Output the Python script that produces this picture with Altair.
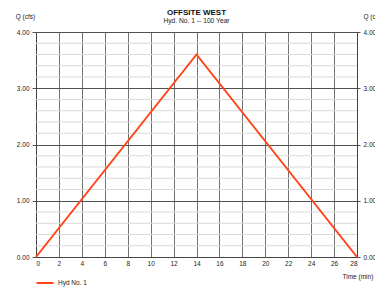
import altair as alt
import pandas as pd

# data
time_min = [0, 14, 28]
flow_cfs = [0.0, 3.6, 0.0]
series_name = "Hyd No. 1"
x_ticks = list(range(0, 29, 2))
y_major = [0, 1, 2, 3, 4]
y_minor = [0.2, 0.4, 0.6, 0.8, 1.2, 1.4, 1.6, 1.8, 2.2, 2.4, 2.6, 2.8, 3.2, 3.4, 3.6, 3.8]

df = pd.DataFrame({"t": time_min, "q": flow_cfs, "s": [series_name] * len(time_min)})
minor_df = pd.DataFrame({"v": y_minor})

FONT = "Liberation Sans"
LINE_COLOR = "#ff4519"

xscale = alt.Scale(domain=[0, 28], nice=False, zero=False)
yscale = alt.Scale(domain=[0, 4], nice=False)

x_axis = alt.Axis(
    values=x_ticks, format="d", ticks=False, labelPadding=3, labelOverlap=False,
    grid=True, gridColor="#707070", gridWidth=1,
    domainColor="#444444", labelFont=FONT, labelFontSize=6.5, labelColor="#222",
    title="Time (min)", titleFont=FONT, titleFontSize=6.5, titleFontWeight="normal",
    titleColor="#222", titleAngle=0, titleAlign="left", titleBaseline="alphabetic",
    titleX=306, titleY=21,
)

left_axis = alt.Axis(
    values=y_major, format=".2f", orient="left", tickSize=4, tickColor="#555",
    labelPadding=3, labelOverlap=False, grid=True, gridColor="#505050", gridWidth=1,
    domainColor="#444444", labelFont=FONT, labelFontSize=6.5, labelColor="#222",
    title="Q (cfs)", titleFont=FONT, titleFontSize=6.5, titleFontWeight="normal",
    titleColor="#222", titleAngle=0, titleAlign="center", titleBaseline="alphabetic",
    titleX=-11, titleY=-14,
)

right_axis = alt.Axis(
    values=y_major, format=".2f", orient="right", tickSize=3, tickColor="#555",
    labelPadding=3, labelOverlap=False, grid=False, domainColor="#444444",
    labelFont=FONT, labelFontSize=6.5, labelColor="#222",
    title="Q (cfs)", titleFont=FONT, titleFontSize=6.5, titleFontWeight="normal",
    titleColor="#222", titleAngle=0, titleAlign="left", titleBaseline="alphabetic",
    titleX=6, titleY=-14,
)

grid = alt.Chart(minor_df).mark_rule(color="#d9d9d9", strokeWidth=1).encode(
    y=alt.Y("v:Q", scale=yscale, axis=None)
)

line = alt.Chart(df).mark_line(strokeWidth=2).encode(
    x=alt.X("t:Q", scale=xscale, axis=x_axis),
    y=alt.Y("q:Q", scale=yscale, axis=left_axis),
    color=alt.Color(
        "s:N",
        scale=alt.Scale(domain=[series_name], range=[LINE_COLOR]),
        legend=alt.Legend(
            orient="none", legendX=-1, legendY=241, title=None,
            symbolType="stroke", symbolSize=290, symbolStrokeWidth=2,
            labelFont=FONT, labelFontSize=6.5, labelColor="#222", labelOffset=3,
        ),
    ),
)

right = alt.Chart(df).mark_line(opacity=0).encode(
    x=alt.X("t:Q", scale=xscale, axis=x_axis),
    y=alt.Y("q:Q", scale=yscale, axis=right_axis),
)

chart = (
    alt.layer(grid, line, right)
    .resolve_scale(y="independent")
    .properties(
        width=321,
        height=225,
        autosize=alt.AutoSizeParams(type="none"),
        padding={"left": 28, "top": 24, "right": 18, "bottom": 30},
        title=alt.Title(
            "OFFSITE WEST",
            subtitle="Hyd. No. 1 -- 100 Year",
            font=FONT, fontSize=8, fontWeight="bold", color="#111",
            subtitleFont=FONT, subtitleFontSize=6.7, subtitleColor="#222",
            anchor="middle", offset=-12, subtitlePadding=1,
        ),
    )
    .configure_view(stroke="#555555", strokeWidth=1)
)

chart.save("out.html", embed_options={"renderer": "svg", "actions": False})
